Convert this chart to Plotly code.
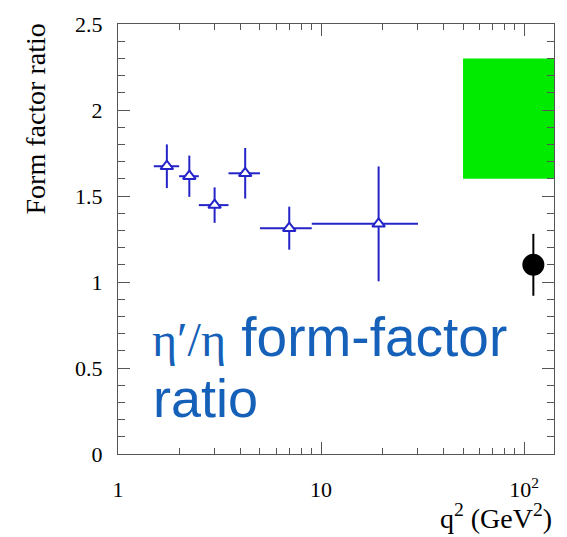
import plotly.graph_objects as go

# ---- data ----
q2 = [1.74, 2.245, 2.99, 4.23, 6.97, 19.2]
q2_lo = [1.5, 2.0, 2.5, 3.5, 5.0, 9.0]
q2_hi = [2.0, 2.5, 3.5, 5.0, 9.0, 30.0]
ratio = [1.673, 1.615, 1.447, 1.632, 1.313, 1.338]
ratio_err = [0.127, 0.12, 0.103, 0.147, 0.125, 0.334]

ref_q2 = [111.0]
ref_ratio = [1.1]
ref_err = [0.18]

band_q2 = [50.0, 145.0]
band_ratio = [1.6, 2.3]

y_ticks = [0, 0.5, 1, 1.5, 2, 2.5]
y_ticktext = ["0", "0.5", "1", "1.5", "2", "2.5"]
x_ticks = [1, 10, 100]
x_ticktext = ["1", "10", "10<sup>2</sup>"]
x_minor = [2, 3, 4, 5, 6, 7, 8, 9, 20, 30, 40, 50, 60, 70, 80, 90]

BLUE = "#2424c8"
AXC = "#555555"
SERIF = "Liberation Serif"

fig = go.Figure()

# green band
fig.add_trace(go.Scatter(
    x=[band_q2[0], band_q2[1], band_q2[1], band_q2[0], band_q2[0]],
    y=[band_ratio[0], band_ratio[0], band_ratio[1], band_ratio[1], band_ratio[0]],
    mode="lines", fill="toself", fillcolor="rgb(0,235,0)",
    line=dict(width=0, color="rgb(0,235,0)"), hoverinfo="skip",
))

# blue measurements
fig.add_trace(go.Scatter(
    x=q2, y=ratio, mode="markers",
    marker=dict(symbol="triangle-up", size=11, color="white",
                line=dict(color=BLUE, width=2)),
    error_y=dict(type="data", array=ratio_err, color=BLUE, thickness=2, width=0),
    error_x=dict(type="data",
                 array=[h - x for h, x in zip(q2_hi, q2)],
                 arrayminus=[x - l for l, x in zip(q2_lo, q2)],
                 color=BLUE, thickness=2, width=0),
))

# black reference point
fig.add_trace(go.Scatter(
    x=ref_q2, y=ref_ratio, mode="markers",
    marker=dict(symbol="circle", size=22, color="black"),
    error_y=dict(type="data", array=ref_err, color="black", thickness=2, width=0),
))

fig.update_layout(
    width=567, height=537,
    margin=dict(l=118, r=12, t=18, b=83),
    paper_bgcolor="white", plot_bgcolor="white",
    showlegend=False,
    font=dict(family=SERIF, size=22, color="black"),
    xaxis=dict(
        type="log", range=[0, 2.147],
        tickvals=x_ticks, ticktext=x_ticktext,
        ticks="inside", ticklen=12, tickcolor=AXC, tickwidth=1,
        showline=True, linecolor=AXC, linewidth=1, mirror="ticks",
        showgrid=False, zeroline=False,
        ticklabelstandoff=16,
        tickfont=dict(family=SERIF, size=22),
        minor=dict(tickvals=x_minor, ticks="inside", ticklen=6,
                   tickcolor=AXC, showgrid=False),
    ),
    yaxis=dict(
        range=[0, 2.5],
        tickvals=y_ticks, ticktext=y_ticktext,
        ticks="inside", ticklen=12, tickcolor=AXC, tickwidth=1,
        showline=True, linecolor=AXC, linewidth=1, mirror="ticks",
        showgrid=False, zeroline=False,
        ticklabelstandoff=10,
        tickfont=dict(family=SERIF, size=22),
        minor=dict(dtick=0.1, ticks="inside", ticklen=7,
                   tickcolor=AXC, showgrid=False),
    ),
)

# axis titles
fig.add_annotation(
    text="Form factor ratio", textangle=-90,
    xref="paper", yref="paper", x=-0.19, y=1.005,
    xanchor="center", yanchor="top", showarrow=False,
    font=dict(family=SERIF, size=28, color="black"),
)
fig.add_annotation(
    text="q<sup>2</sup> (GeV<sup>2</sup>)",
    xref="paper", yref="paper", x=1.0, y=-0.19,
    xanchor="right", yanchor="bottom", showarrow=False,
    font=dict(family=SERIF, size=28, color="black"),
)

# overlay text
TXT = "#1560b8"
fig.add_annotation(
    text="<span style='font-family:Liberation Serif;font-size:48px'>η′/η</span> form-factor",
    xref="paper", yref="paper", x=(150 - 118) / 437, y=(454 - 335) / 436,
    xanchor="left", yanchor="middle", showarrow=False,
    font=dict(family="Liberation Sans", size=55, color=TXT),
)
fig.add_annotation(
    text="ratio",
    xref="paper", yref="paper", x=(151 - 118) / 437, y=(454 - 397) / 436,
    xanchor="left", yanchor="middle", showarrow=False,
    font=dict(family="Liberation Sans", size=54, color=TXT),
)

fig.write_html("out.html")
